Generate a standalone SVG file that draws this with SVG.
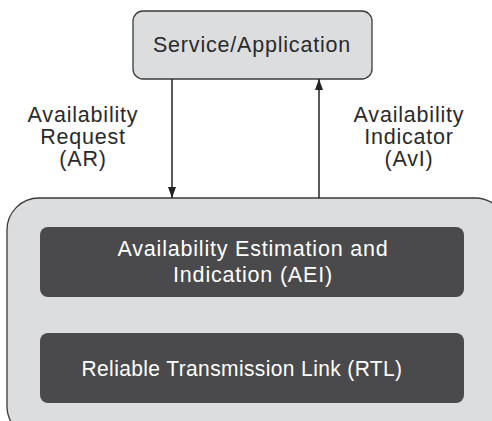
<svg xmlns="http://www.w3.org/2000/svg" width="492" height="421" viewBox="0 0 492 421">
<style>
text{font-family:"Liberation Sans",Arial,sans-serif;font-size:21.5px;letter-spacing:0.8px;fill:#2a2a2a;text-anchor:middle}
.light{fill:#dcdddf;stroke:#3a3a3a;stroke-width:1.3}
.dark{fill:#4a4a4c}
.dark-t{fill:#ffffff}
.conn{stroke:#222;stroke-width:1.5;fill:none}
</style>
<defs>
<marker id="ah" viewBox="0 0 11 8" refX="11" refY="4" markerWidth="11" markerHeight="8" markerUnits="userSpaceOnUse" orient="auto">
<path d="M0,0 L11,4 L0,8 Z" fill="#222"/>
</marker>
</defs>
<rect width="492" height="421" fill="#ffffff"/>
<g id="system">
<rect class="light" x="7" y="198" width="500" height="240" rx="32"/>
</g>
<g id="service">
<rect class="light" x="133" y="11" width="239" height="68" rx="10"/>
<text x="252" y="52">Service/Application</text>
</g>
<g id="aei">
<rect class="dark" x="40" y="227" width="424" height="70" rx="8"/>
<text class="dark-t" x="253" y="256">Availability Estimation and</text>
<text class="dark-t" x="253" y="282">Indication (AEI)</text>
</g>
<g id="rtl">
<rect class="dark" x="40" y="333" width="424" height="70" rx="8"/>
<text class="dark-t" x="242" y="376" style="letter-spacing:0.4px" textLength="321" lengthAdjust="spacingAndGlyphs">Reliable Transmission Link (RTL)</text>
</g>
<g id="connectors">
<line class="conn" x1="172" y1="79" x2="172" y2="198" marker-end="url(#ah)"/>
<line class="conn" x1="319" y1="198" x2="319" y2="79" marker-end="url(#ah)"/>
</g>
<g id="labels">
<text x="83" y="122">Availability</text>
<text x="83" y="144">Request</text>
<text x="83" y="166">(AR)</text>
<text x="409" y="122">Availability</text>
<text x="409" y="144">Indicator</text>
<text x="409" y="166">(AvI)</text>
</g>
</svg>
